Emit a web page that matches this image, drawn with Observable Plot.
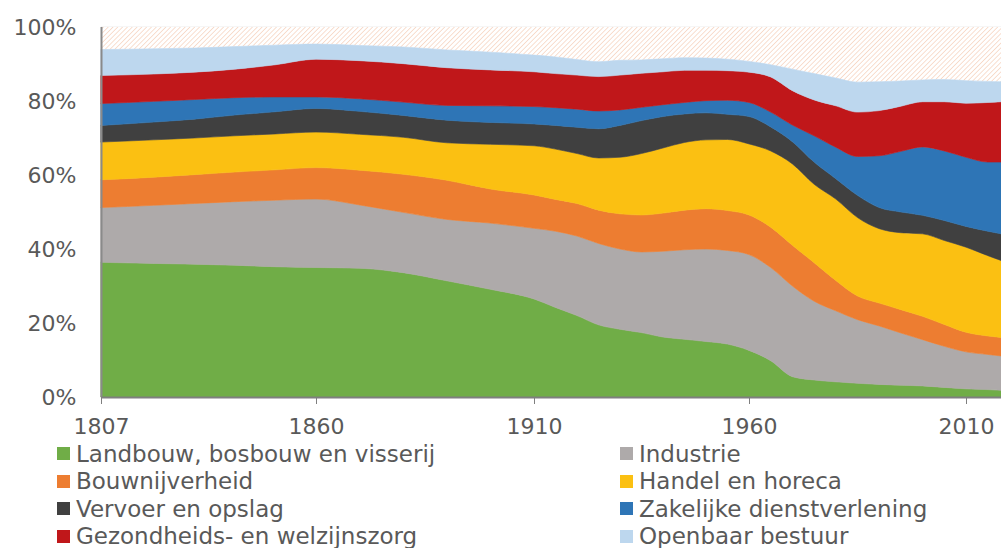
<!DOCTYPE html>
<html>
<head>
<meta charset="utf-8">
<script src="https://cdn.jsdelivr.net/npm/d3@7"></script>
<script src="https://cdn.jsdelivr.net/npm/@observablehq/plot@0.6"></script>
<style>
  body { margin: 0; background: #fff; font-family: "DejaVu Sans", Verdana, sans-serif; }
  #wrap { position: relative; width: 1001px; height: 548px; overflow: hidden; }
  #legend { position: absolute; left: 0; top: 440px; width: 1001px; height: 108px; }
  .item { position: absolute; display: flex; align-items: center; height: 27.5px; font-size: 23px; color: #595959; white-space: nowrap; }
  .sw { width: 13px; height: 13px; margin-right: 6px; flex: none; }
</style>
</head>
<body>
<div id="wrap"><div id="chart"></div><div id="legend"></div></div>
<script>
const years = [1807,1820,1830,1840,1850,1860,1870,1880,1890,1900,1910,1915,1920,1925,1930,1935,1940,1945,1950,1955,1960,1965,1970,1975,1980,1985,1990,1995,2000,2005,2010,2015,2018];

const sectors = ["Landbouw, bosbouw en visserij","Industrie","Bouwnijverheid","Handel en horeca","Vervoer en opslag","Zakelijke dienstverlening","Gezondheids- en welzijnszorg","Openbaar bestuur"];
const colors = ["#70ad47","#aeaaaa","#ed7d31","#fbc012","#404040","#2e75b6","#c0171a","#bdd7ee"];

const landbouw   = [36.4,36.1,35.9,35.6,35.2,35.0,34.8,33.6,31.4,29.1,26.5,24.2,22.0,19.5,18.3,17.4,16.2,15.6,15.0,14.3,12.6,9.8,5.5,4.6,4.1,3.7,3.4,3.2,3.0,2.6,2.2,2.0,1.8];
const industrie  = [14.8,15.7,16.4,17.2,18.0,18.5,17.1,16.3,16.6,17.9,19.1,20.6,21.5,22.0,21.7,21.8,23.2,24.2,25.0,25.3,25.9,25.2,24.5,21.3,19.2,17.2,15.8,14.1,12.5,11.1,10.0,9.5,9.3];
const bouw       = [7.5,7.6,7.8,8.0,8.2,8.5,9.4,10.3,10.6,9.2,9.0,8.6,8.8,9.0,9.5,10.0,10.3,10.7,10.9,10.8,10.7,10.9,11.0,10.4,8.2,6.4,6.2,6.3,6.3,5.9,5.3,5.0,5.0];
const handel     = [10.2,10.1,9.9,9.8,9.7,9.6,9.7,10.0,10.1,12.1,13.3,13.6,13.5,14.1,15.3,16.6,17.6,18.3,18.6,19.2,19.2,20.6,22.0,21.2,22.0,21.2,20.1,20.8,22.3,22.7,23.0,21.7,20.8];
const vervoer    = [4.5,4.8,5.1,5.6,6.0,6.4,6.2,5.9,6.1,5.9,5.9,6.4,7.1,7.9,8.6,8.9,8.5,7.7,7.3,6.8,7.4,6.5,6.0,6.0,5.5,6.0,5.7,5.6,5.0,5.4,5.6,6.6,7.2];
const zakelijk   = [5.9,5.6,5.3,4.7,4.0,3.1,3.4,3.6,4.0,4.5,4.7,4.8,4.9,4.8,4.2,3.6,3.2,3.1,3.3,3.8,3.8,4.0,4.5,7.1,8.5,10.5,14.0,16.4,18.5,18.8,18.7,18.7,19.4];
const gezondheid = [7.6,7.4,7.4,7.7,8.7,10.2,10.3,10.4,10.2,9.7,9.4,9.2,9.2,9.3,9.4,9.2,8.9,8.7,8.2,8.0,8.2,9.5,9.3,9.7,11.2,12.0,12.2,12.2,12.2,13.3,14.6,16.1,16.3];
const openbaar   = [7.0,6.8,6.5,6.1,5.3,4.1,4.1,4.5,4.8,4.8,4.5,4.5,4.2,4.0,4.0,3.6,3.5,3.4,3.3,3.1,2.9,3.3,5.8,7.1,7.5,8.1,7.8,6.8,5.9,6.0,6.1,5.7,5.4];

const yTicks = [0,20,40,60,80,100];
const xTicks = [1807,1860,1910,1960,2010];

const series = [landbouw,industrie,bouw,handel,vervoer,zakelijk,gezondheid,openbaar];
const long = [];
series.forEach((vals, s) => vals.forEach((v, i) => long.push({year: years[i], sector: sectors[s], value: v})));
const totals = years.map((_, i) => d3.sum(series, s => s[i]));
const rest = years.map((y, i) => ({year: y, top: totals[i]}));

const chart = Plot.plot({
  width: 1001,
  height: 440,
  marginTop: 27,
  marginBottom: 43,
  marginLeft: 101,
  marginRight: 0,
  style: {fontFamily: "'DejaVu Sans', Verdana, sans-serif", fontSize: "22px", color: "#595959", background: "#fff"},
  x: {type: "linear", domain: [1807,1860,1910,1960,2010,2018], range: [101,316,534,749,966,1001]},
  y: {domain: [0,100]},
  color: {domain: sectors, range: colors},
  marks: [
    Plot.ruleY([100], {stroke: "#d9d9d9", strokeWidth: 1.5}),
    Plot.areaY(rest, {x: "year", y1: "top", y2: 100, fill: "url(#hatch)", curve: "monotone-x"}),
    Plot.areaY(long, {x: "year", y: "value", fill: "sector", stroke: "sector", strokeWidth: 0.6, order: sectors, curve: "monotone-x"}),
    Plot.ruleX([years[0]], {y1: 0, y2: 100, stroke: "#8a8a8a", strokeWidth: 2}),
    Plot.ruleY([0], {stroke: "#7f7f7f", strokeWidth: 2}),
    Plot.axisY({ticks: yTicks, tickFormat: d => d + "%", tickSize: 0, tickPadding: 25, fontSize: 22, fill: "#595959", label: null}),
    Plot.axisX({ticks: xTicks, tickFormat: d => String(d), tickSize: 7, tickPadding: 14, fontSize: 22, stroke: "#7f7f7f", fill: "#595959", label: null})
  ]
});

d3.select(chart).insert("defs", ":first-child").html(
  '<pattern id="hatch" patternUnits="userSpaceOnUse" width="3.4" height="3.4" patternTransform="rotate(45)">' +
  '<rect width="3.4" height="3.4" fill="#ffffff"/>' +
  '<line x1="0" y1="0" x2="0" y2="3.4" stroke="#f3c4aa" stroke-width="1.1"/></pattern>'
);
document.getElementById("chart").appendChild(chart);

const legend = document.getElementById("legend");
sectors.forEach((name, i) => {
  const col = i % 2, row = Math.floor(i / 2);
  const el = document.createElement("div");
  el.className = "item";
  el.style.left = (col === 0 ? 57 : 620) + "px";
  el.style.top = (row * 27.5) + "px";
  const sw = document.createElement("span");
  sw.className = "sw";
  sw.style.background = colors[i];
  const t = document.createElement("span");
  t.textContent = name;
  el.appendChild(sw); el.appendChild(t);
  legend.appendChild(el);
});
</script>
</body>
</html>
